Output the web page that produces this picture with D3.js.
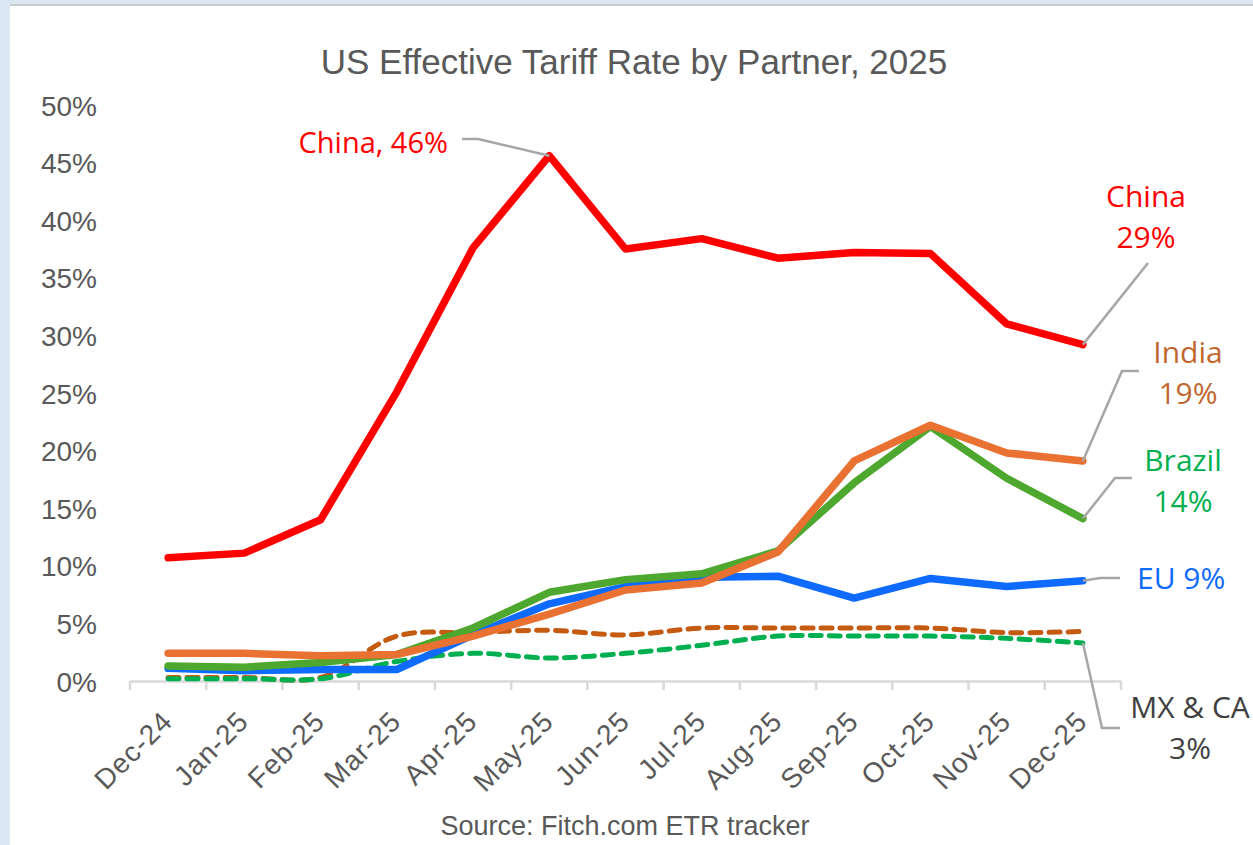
<!DOCTYPE html>
<html><head><meta charset="utf-8">
<script src="https://cdn.jsdelivr.net/npm/d3@7"></script>
<style>
html,body{margin:0;padding:0;background:#dbe8f3;}
svg{display:block;}
</style></head>
<body>
<svg id="chart" width="1253" height="845"></svg>
<script>
const categories = ["Dec-24","Jan-25","Feb-25","Mar-25","Apr-25","May-25","Jun-25","Jul-25","Aug-25","Sep-25","Oct-25","Nov-25","Dec-25"];
const china  = [10.7, 11.1, 14.0, 25.1, 37.6, 45.6, 37.5, 38.4, 36.7, 37.2, 37.1, 31.0, 29.2];
const india  = [2.4, 2.4, 2.2, 2.3, 3.9, 5.8, 7.9, 8.5, 11.2, 19.1, 22.2, 19.8, 19.1];
const brazil = [1.3, 1.2, 1.6, 2.3, 4.6, 7.7, 8.8, 9.3, 11.3, 17.2, 22.1, 17.6, 14.1];
const eu     = [1.1, 0.9, 1.0, 1.0, 4.0, 6.7, 8.2, 9.0, 9.1, 7.2, 8.9, 8.2, 8.7];
const mexico = [0.3, 0.3, 0.3, 3.9, 4.2, 4.4, 4.0, 4.6, 4.6, 4.6, 4.6, 4.2, 4.3];
const canada = [0.2, 0.2, 0.2, 1.7, 2.4, 2.0, 2.4, 3.1, 3.9, 3.9, 3.9, 3.7, 3.3];
const yTicks = [0,5,10,15,20,25,30,35,40,45,50];

const series = [
  {name:"MX", values:mexico, color:"#C55A11", width:5, dash:"11,8", smooth:true},
  {name:"CA", values:canada, color:"#00B050", width:5, dash:"11,8", smooth:true},
  {name:"EU", values:eu, color:"#0F6BFF", width:7.5, dash:null, smooth:false},
  {name:"Brazil", values:brazil, color:"#4EA72E", width:7.5, dash:null, smooth:false},
  {name:"India", values:india, color:"#E97132", width:7.5, dash:null, smooth:false},
  {name:"China", values:china, color:"#FF0000", width:7.5, dash:null, smooth:false}
];

const svg = d3.select("#chart");
svg.append("rect").attr("x",10).attr("y",6).attr("width",1243).attr("height",839).attr("fill","#ffffff");
svg.append("line").attr("x1",10).attr("x2",1253).attr("y1",5).attr("y2",5).attr("stroke","#c8cdd2").attr("stroke-width",2);

const x = d3.scaleBand().domain(categories).range([130,1121]).padding(0);
const cx = c => x(c) + x.bandwidth()/2;
const y = d3.scaleLinear().domain([0,50]).range([681,105]);

const gray = "#595959";

// Title
svg.append("text").attr("x",634).attr("y",74).attr("text-anchor","middle")
  .attr("font-family","'Liberation Sans Narrow','Arial Narrow','Liberation Sans',sans-serif")
  .attr("font-size",35).attr("fill",gray)
  .text("US Effective Tariff Rate by Partner, 2025");

// Y axis labels
const yAxis = d3.axisLeft(y).tickValues(yTicks).tickFormat(d=>d+"%").tickSize(0).tickPadding(0);
const gy = svg.append("g").attr("transform","translate(97,0)").call(yAxis);
gy.select(".domain").remove();
gy.selectAll("text").attr("font-family","'Liberation Sans',Arial,sans-serif").attr("font-size",28).attr("fill",gray).attr("dy","0.36em");

// X axis
const xAxis = d3.axisBottom(x).tickSize(0).tickPadding(0);
const gx = svg.append("g").attr("transform","translate(0,681)").call(xAxis);
gx.select(".domain").remove();
gx.selectAll("text")
  .attr("font-family","'Liberation Sans',Arial,sans-serif").attr("font-size",28).attr("fill",gray)
  .attr("letter-spacing","1px")
  .attr("text-anchor","end").attr("dy",null)
  .attr("transform","translate(6,42) rotate(-45)");
const tickPos = categories.map(c=>x(c)).concat([x.range()[1]]);
svg.append("line").attr("x1",130).attr("x2",1121).attr("y1",681.5).attr("y2",681.5).attr("stroke","#d9d9d9").attr("stroke-width",2.5);
svg.append("g").selectAll("line").data(tickPos).join("line")
  .attr("x1",d=>d).attr("x2",d=>d).attr("y1",681).attr("y2",690)
  .attr("stroke","#d9d9d9").attr("stroke-width",2.5);

// Lines
series.forEach(s=>{
  const line = d3.line().x((d,i)=>cx(categories[i])).y(d=>y(d))
    .curve(s.smooth ? d3.curveCatmullRom.alpha(0.5) : d3.curveLinear);
  svg.append("path").datum(s.values).attr("d",line)
    .attr("fill","none").attr("stroke",s.color).attr("stroke-width",s.width)
    .attr("stroke-linejoin","round").attr("stroke-linecap","round")
    .attr("stroke-dasharray",s.dash);
});

// Annotations
const annFont = "'Open Sans','Noto Sans',sans-serif";
const leader = pts => svg.append("polyline").attr("points",pts.map(p=>p.join(",")).join(" "))
  .attr("fill","none").attr("stroke","#a6a6a6").attr("stroke-width",2.5);
const last = categories[categories.length-1];
const xl = cx(last);

leader([[cx("May-25"),y(china[5])],[478,139],[462,139]]);
svg.append("text").attr("x",448).attr("y",153).attr("text-anchor","end")
  .attr("font-family",annFont).attr("font-size",29).attr("fill","#FF0000").text("China, 46%");

function label2(xc, y1, l1, l2, color){
  const t = svg.append("text").attr("text-anchor","middle").attr("font-family",annFont).attr("font-size",30).attr("fill",color);
  t.append("tspan").attr("x",xc).attr("y",y1).text(l1);
  t.append("tspan").attr("x",xc).attr("y",y1+41).text(l2);
}
leader([[xl,y(china[12])],[1148,263]]);
label2(1146,207,"China","29%","#FF0000");

leader([[xl,y(india[12])],[1122,371],[1139,371]]);
label2(1188,363,"India","19%","#C0672F");

leader([[xl,y(brazil[12])],[1115,478],[1132,478]]);
label2(1183,471,"Brazil","14%","#00B050");

leader([[xl,y(eu[12])],[1100,578],[1120,578]]);
svg.append("text").attr("x",1137).attr("y",589).attr("font-family",annFont).attr("font-size",30).attr("fill","#0F6BFF").text("EU 9%");

leader([[xl,y(canada[12])],[1102,728],[1120,728]]);
label2(1190,718,"MX & CA","3%","#404040");

// Source
svg.append("text").attr("x",625).attr("y",835).attr("text-anchor","middle")
  .attr("font-family","'Liberation Sans Narrow','Arial Narrow','Liberation Sans',sans-serif")
  .attr("font-size",27).attr("fill",gray)
  .text("Source: Fitch.com ETR tracker");
</script>
</body></html>
